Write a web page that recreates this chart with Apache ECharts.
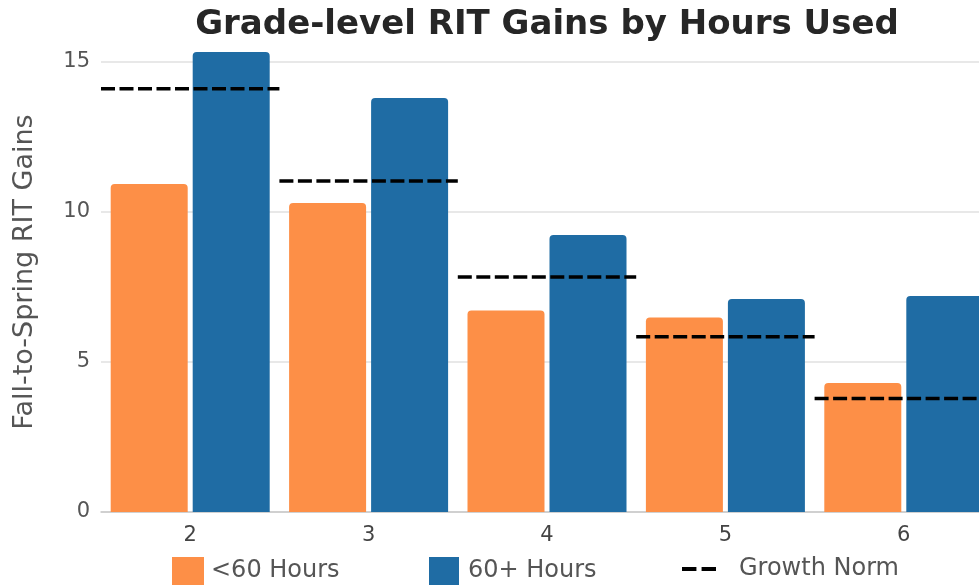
<!doctype html>
<html>
  <head>
    <meta charset="utf-8">
    <title>Grade-level RIT Gains by Hours Used</title>
    <script src="https://cdn.jsdelivr.net/npm/echarts@6/dist/echarts.min.js"></script>
    <style>
      html, body { margin: 0; padding: 0; background: #ffffff; }
      #chart { width: 979px; height: 587px; }
    </style>
  </head>
  <body>
    <div id="chart"></div>
    <script type="text/javascript">
      // grades on the x axis
      var grades = ['2', '3', '4', '5', '6']
      // fall-to-spring gains
      var under60 = [10.93, 10.3, 6.72, 6.48, 4.3]
      var over60 = [15.33, 13.8, 9.23, 7.1, 7.2]
      var growthNorm = [14.11, 11.03, 7.83, 5.84, 3.78]
      var yTicks = [0, 5, 10, 15]

      var FONT = 'DejaVu Sans'
      var ORANGE = '#fd8f47'
      var BLUE = '#1f6ca4'

      var myChart = echarts.init(document.getElementById('chart'))

      // one dashed segment per grade, as wide as the category band
      function renderNorm(params, api) {
        var p = api.coord([api.value(0), api.value(1)])
        var w = api.size([1, 0])[0]
        return {
          type: 'line',
          shape: { x1: p[0] - w / 2, y1: p[1], x2: p[0] + w / 2, y2: p[1] },
          style: { stroke: '#000', lineWidth: 3.5, lineDash: [14, 4.5] }
        }
      }

      function legendAt(left, name, icon, w, pad) {
        return {
          left: left,
          top: 557,
          padding: 0,
          itemWidth: w,
          itemHeight: 28,
          icon: icon,
          data: [name],
          textStyle: { fontFamily: FONT, fontSize: 24, color: '#555', padding: [0, 0, 0, pad] }
        }
      }

      myChart.setOption({
        animation: false,
        title: {
          text: 'Grade-level RIT Gains by Hours Used',
          left: 542,
          textAlign: 'center',
          top: 3,
          textStyle: { fontFamily: FONT, fontSize: 34, fontWeight: 'bold', color: '#262626' }
        },
        legend: [
          legendAt(172, '<60 Hours', 'rect', 32, 2),
          legendAt(429, '60+ Hours', 'rect', 30, 4),
          legendAt(682, 'Growth Norm', 'path://M0,0h14v4h-14z M19,0h14v4h-14z', 34, 18)
        ],
        grid: {
          left: 101,
          right: -14,
          top: 32,
          bottom: 75,
          outerBoundsMode: 'none'
        },
        xAxis: {
          type: 'category',
          data: grades,
          axisTick: { show: false },
          axisLine: { lineStyle: { color: '#c8c8c8', width: 1.5 } },
          axisLabel: { fontFamily: FONT, fontSize: 21, color: '#444', margin: 13 }
        },
        yAxis: {
          type: 'value',
          min: 0,
          max: 16,
          interval: 5,
          name: 'Fall-to-Spring RIT Gains',
          nameLocation: 'middle',
          nameGap: 63,
          nameTextStyle: { fontFamily: FONT, fontSize: 27, color: '#555' },
          axisLabel: {
            fontFamily: FONT, fontSize: 21, color: '#555', margin: 11,
            showMaxLabel: false,
            formatter: function (v) { return yTicks.indexOf(v) >= 0 ? String(v) : '' }
          },
          splitLine: { showMaxLine: false, lineStyle: { color: '#e0e0e0', width: 1.5 } }
        },
        series: [
          {
            name: '<60 Hours',
            type: 'bar',
            data: under60,
            barWidth: 77,
            barGap: '6.5%',
            itemStyle: { color: ORANGE, borderRadius: [4, 4, 0, 0] }
          },
          {
            name: '60+ Hours',
            type: 'bar',
            data: over60,
            barWidth: 77,
            barGap: '6.5%',
            itemStyle: { color: BLUE, borderRadius: [4, 4, 0, 0] }
          },
          {
            name: 'Growth Norm',
            type: 'custom',
            renderItem: renderNorm,
            itemStyle: { color: '#000' },
            data: growthNorm.map(function (v, i) { return [i, v] }),
            z: 5
          }
        ]
      })
    </script>
  </body>
</html>
